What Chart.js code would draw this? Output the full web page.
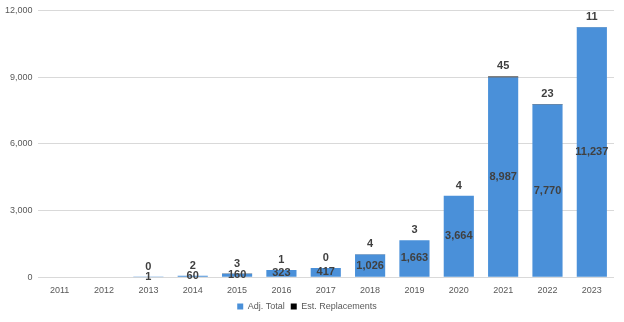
<!DOCTYPE html>
<html><head><meta charset="utf-8">
<script src="https://cdn.jsdelivr.net/npm/chart.js@4"></script>
<style>html,body{margin:0;padding:0;background:#fff}#wrap{width:624px;height:322px}</style>
</head><body><div id="wrap"><canvas id="c"></canvas></div>
<script>
const categories = ['2011','2012','2013','2014','2015','2016','2017','2018','2019','2020','2021','2022','2023'];
const adjTotal = [null,null,1,60,160,323,417,1026,1663,3664,8987,7770,11237];
const estReplacements = [null,null,0,2,3,1,0,4,3,4,45,23,11];
const yTicks = [0,3000,6000,9000,12000];

const labelPlugin = {
  id:'labels',
  afterDatasetsDraw(chart){
    const ctx = chart.ctx;
    ctx.save();
    ctx.font = 'bold 11px "Liberation Sans", Arial, sans-serif';
    ctx.fillStyle = '#404040';
    ctx.textAlign = 'center';
    ctx.textBaseline = 'middle';
    chart.data.datasets.forEach((ds, di) => {
      const meta = chart.getDatasetMeta(di);
      meta.data.forEach((el, i) => {
        const v = ds.data[i];
        if (v === null || v === undefined) return;
        const txt = v.toLocaleString('en-US');
        if (di === 0) {
          ctx.fillText(txt, el.x, (el.y + el.base) / 2);
        } else {
          ctx.fillText(txt, el.x, el.y - 10);
        }
      });
    });
    ctx.restore();
  }
};

const fam = '"Liberation Sans", Arial, sans-serif';
new Chart(document.getElementById('c'), {
  type:'bar',
  data:{
    labels:categories,
    datasets:[
      {label:'Adj. Total', data:adjTotal, backgroundColor:'#4a90d9', stack:'s', barPercentage:0.68, categoryPercentage:1},
      {label:'Est. Replacements', data:estReplacements, backgroundColor:'#000000', stack:'s', barPercentage:0.68, categoryPercentage:1}
    ]
  },
  options:{
    responsive:true, maintainAspectRatio:false, animation:false,
    layout:{padding:{left:0,right:10,top:2,bottom:1}},
    plugins:{
      legend:{position:'bottom', labels:{boxWidth:6, boxHeight:6, font:{size:9, family:fam}, color:'#595959', padding:6}},
      tooltip:{enabled:false}
    },
    scales:{
      x:{stacked:true, grid:{display:false}, border:{display:false},
         ticks:{color:'#595959', font:{size:9, family:fam}, padding:0}},
      y:{stacked:true, min:0, max:12000,
         afterBuildTicks(axis){ axis.ticks = yTicks.map(v=>({value:v})); },
         grid:{color:'#d9d9d9', drawTicks:false}, border:{display:false},
         ticks:{color:'#595959', font:{size:9, family:fam}, padding:5,
                callback:v=>v.toLocaleString('en-US')}}
    }
  },
  plugins:[labelPlugin]
});
</script></body></html>
